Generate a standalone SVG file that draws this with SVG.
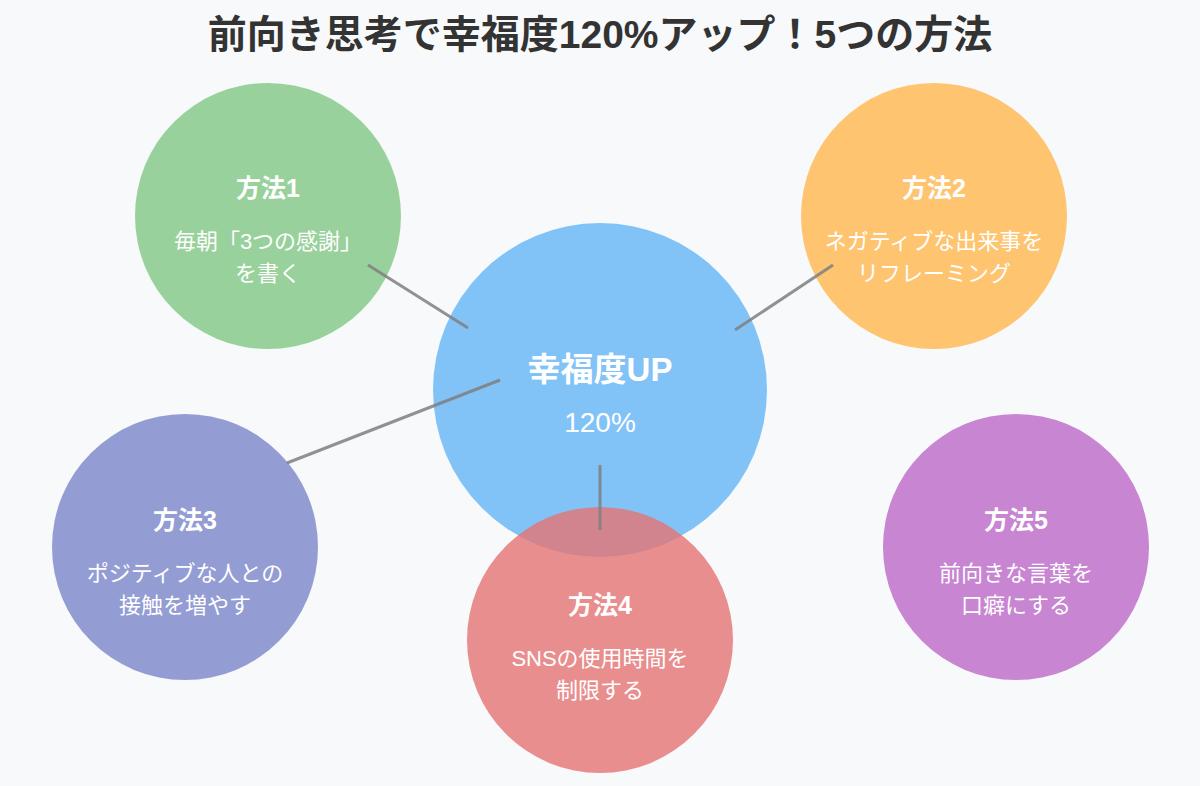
<svg xmlns="http://www.w3.org/2000/svg" width="1200" height="786" viewBox="0 0 1200 786">
<style>
text{font-family:"Liberation Sans","Noto Sans CJK JP",sans-serif;text-anchor:middle;fill:#fff}
.t{font-size:25px;font-weight:bold}
.b{font-size:22px}
.c{stroke:#808080;stroke-width:3;opacity:0.85}
</style>
<rect width="1200" height="786" fill="#f8f9fa"/>
<text x="600" y="48" style="font-size:39px;font-weight:bold;fill:#333">前向き思考で幸福度120%アップ！5つの方法</text>
<g id="center"><circle cx="600" cy="390" r="167" fill="#64b5f6" fill-opacity="0.8"/>
<text x="600" y="381" style="font-size:33px;font-weight:bold">幸福度UP</text><text x="600" y="432" style="font-size:28px">120%</text></g>
<g id="m1"><circle cx="268" cy="216" r="133" fill="#81c784" fill-opacity="0.8"/>
<text class="t" x="268" y="197">方法1</text><text class="b" x="268" y="249">毎朝「3つの感謝」</text><text class="b" x="268" y="281">を書く</text></g>
<g id="m2"><circle cx="934" cy="216" r="133" fill="#ffb74d" fill-opacity="0.8"/>
<text class="t" x="934" y="197">方法2</text><text class="b" x="934" y="249">ネガティブな出来事を</text><text class="b" x="934" y="281">リフレーミング</text></g>
<g id="m3"><circle cx="185" cy="547" r="133" fill="#7986cb" fill-opacity="0.8"/>
<text class="t" x="185" y="529">方法3</text><text class="b" x="185" y="581">ポジティブな人との</text><text class="b" x="185" y="613">接触を増やす</text></g>
<g id="m4"><circle cx="600" cy="640" r="133" fill="#e57373" fill-opacity="0.8"/>
<text class="t" x="600" y="614">方法4</text><text class="b" x="600" y="666">SNSの使用時間を</text><text class="b" x="600" y="698">制限する</text></g>
<g id="m5"><circle cx="1016" cy="547" r="133" fill="#ba68c8" fill-opacity="0.8"/>
<text class="t" x="1016" y="529">方法5</text><text class="b" x="1016" y="581">前向きな言葉を</text><text class="b" x="1016" y="613">口癖にする</text></g>
<g id="connectors">
<line class="c" x1="368" y1="265" x2="468" y2="328"/>
<line class="c" x1="833" y1="265" x2="735" y2="330"/>
<line class="c" x1="500" y1="380" x2="287" y2="463"/>
<line class="c" x1="600" y1="465" x2="600" y2="530"/>
</g>
</svg>
